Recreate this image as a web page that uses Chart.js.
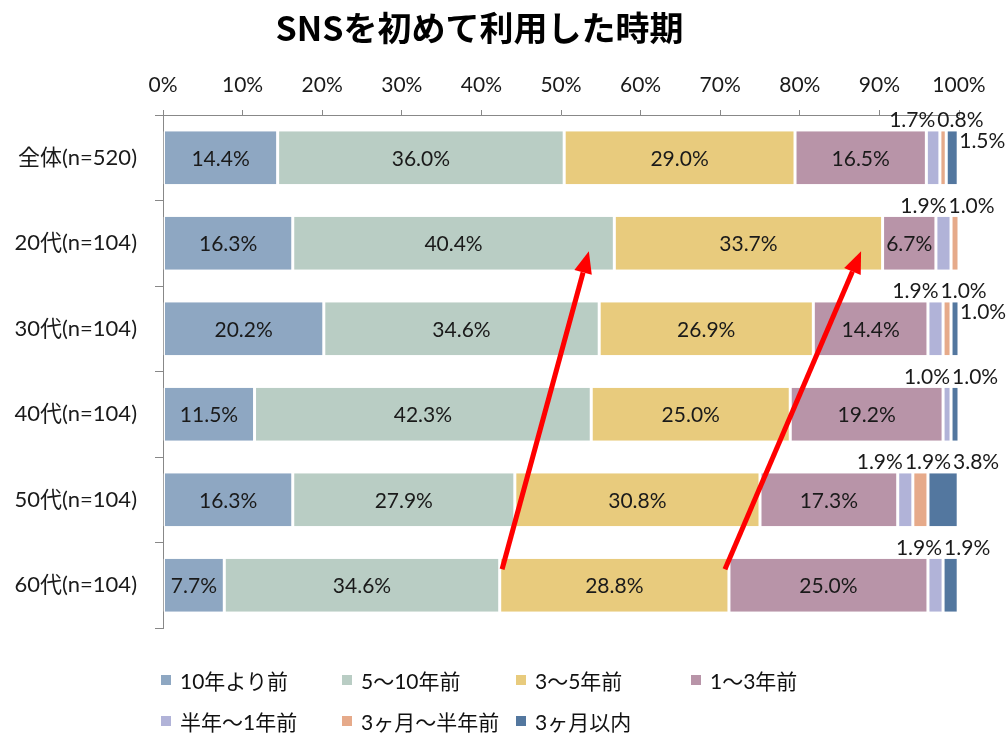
<!DOCTYPE html>
<html>
<head>
<meta charset="utf-8">
<script src="https://cdn.jsdelivr.net/npm/chart.js@4.4.1/dist/chart.umd.min.js"></script>
<style>
	html, body { margin: 0; padding: 0; background: #fff; }
	#wrap { position: relative; width: 1008px; height: 734px; }
	#c { position: absolute; left: 0; top: 0; }
	#legend {
		position: absolute; left: 161px; top: 667px;
		display: grid; grid-template-columns: 181px 174px 175px 200px; row-gap: 15px;
		font-family: Lato, "Noto Sans CJK JP", sans-serif; font-size: 21px; color: #111;
	}
	.item { display: flex; align-items: center; height: 26px; white-space: nowrap; }
	.sw { width: 10px; height: 10px; margin-right: 9px; flex: none; }
</style>
</head>
<body>
<div id="wrap">
	<canvas id="c" width="1008" height="734"></canvas>
	<div id="legend"></div>
</div>
<script>
'use strict';
/*----data----*/
var categories = ['全体(n=520)', '20代(n=104)', '30代(n=104)', '40代(n=104)', '50代(n=104)', '60代(n=104)'];
var seriesNames = ['10年より前', '5～10年前', '3～5年前', '1～3年前', '半年～1年前', '3ヶ月～半年前', '3ヶ月以内'];
var before10y = [14.4, 16.3, 20.2, 11.5, 16.3, 7.7];
var y5to10 = [36.0, 40.4, 34.6, 42.3, 27.9, 34.6];
var y3to5 = [29.0, 33.7, 26.9, 25.0, 30.8, 28.8];
var y1to3 = [16.5, 6.7, 14.4, 19.2, 17.3, 25.0];
var m6to1y = [1.7, 1.9, 1.9, 1.0, 1.9, 1.9];
var m3to6 = [0.8, 1.0, 1.0, 0, 1.9, 0];
var within3m = [1.5, 0, 1.0, 1.0, 3.8, 1.9];
var xTicks = [0, 10, 20, 30, 40, 50, 60, 70, 80, 90, 100];
// arrows: from a point on one bar to a point on another (x in %, y = category index)
var arrowFrom = [[42.6, 5], [70.6, 5]];
var arrowTo = [[53.5, 1], [87.7, 1]];

/*----style----*/
var colors = ['#8ea7c2', '#b9cdc4', '#e8cb7d', '#b894a8', '#b1b3d8', '#e6aa8a', '#53779f'];
var fontFam = 'Lato, "Noto Sans CJK JP", sans-serif';
var axisColor = '#888888';
// labels of these (category-series) go to the right of the bar instead of above it
var sideLabels = { '0-6': true, '2-6': true };

var allSeries = [before10y, y5to10, y3to5, y1to3, m6to1y, m3to6, within3m];

var labelPlugin = {
	id: 'barLabels',
	afterDatasetsDraw: function(chart) {
		var ctx = chart.ctx;
		ctx.save();
		ctx.font = '21px ' + fontFam;
		ctx.fillStyle = '#1a1a1a';
		ctx.textBaseline = 'middle';
		for (var i = 0; i < categories.length; i++) {
			var small = [];
			for (var d = 0; d < allSeries.length; d++) {
				var v = allSeries[d][i];
				if (!v) continue;
				var el = chart.getDatasetMeta(d).data[i];
				var txt = v.toFixed(1) + '%';
				var top = el.y - el.height / 2;
				if (v >= 5) {
					ctx.textAlign = 'center';
					ctx.fillText(txt, (el.x + el.base) / 2, el.y + 1);
				} else if (sideLabels[i + '-' + d]) {
					ctx.textAlign = 'left';
					ctx.fillText(txt, el.x + 1, top + 10);
				} else {
					small.push({ txt: txt, x0: el.base, x1: el.x, top: top });
				}
			}
			if (small.length) {
				var gap = 2;
				var total = -gap;
				small.forEach(function(s) { s.w = ctx.measureText(s.txt).width; total += s.w + gap; });
				var mid = (small[0].x0 + small[small.length - 1].x1) / 2;
				var x = mid - total / 2;
				ctx.textAlign = 'left';
				small.forEach(function(s) {
					ctx.fillText(s.txt, x, s.top - 11);
					x += s.w + gap;
				});
			}
		}
		ctx.restore();
	}
};

var arrowPlugin = {
	id: 'arrows',
	afterDatasetsDraw: function(chart) {
		var ctx = chart.ctx;
		var xs = chart.scales.x, ys = chart.scales.y;
		ctx.save();
		ctx.strokeStyle = '#ff0000';
		ctx.fillStyle = '#ff0000';
		ctx.lineWidth = 5;
		for (var k = 0; k < arrowFrom.length; k++) {
			var x0 = xs.getPixelForValue(arrowFrom[k][0]);
			var y0 = ys.getPixelForValue(arrowFrom[k][1]) - 16;
			var x1 = xs.getPixelForValue(arrowTo[k][0]);
			var y1 = ys.getPixelForValue(arrowTo[k][1]) + 8;
			var ang = Math.atan2(y1 - y0, x1 - x0);
			var headLen = 22, headW = 9;
			var bx = x1 - headLen * Math.cos(ang), by = y1 - headLen * Math.sin(ang);
			ctx.beginPath();
			ctx.moveTo(x0, y0);
			ctx.lineTo(bx, by);
			ctx.stroke();
			ctx.beginPath();
			ctx.moveTo(x1, y1);
			ctx.lineTo(bx + headW * Math.sin(ang), by - headW * Math.cos(ang));
			ctx.lineTo(bx - headW * Math.sin(ang), by + headW * Math.cos(ang));
			ctx.closePath();
			ctx.fill();
		}
		ctx.restore();
	}
};

var datasets = allSeries.map(function(arr, d) {
	return {
		label: seriesNames[d],
		data: arr,
		backgroundColor: colors[d],
		borderColor: '#ffffff',
		borderWidth: { left: 1.5, right: 1.5, top: 0, bottom: 0 },
		borderSkipped: false,
		categoryPercentage: 1,
		barPercentage: 0.62
	};
});

var titleSize = 34;
var titleH = titleSize * 1.2 + 8 + 8;

var ctx = document.getElementById('c').getContext('2d');
var myChart = new Chart(ctx, {
	type: 'bar',
	data: { labels: categories, datasets: datasets },
	options: {
		indexAxis: 'y',
		responsive: false,
		animation: false,
		layout: { padding: { left: 0, right: 49, top: 0, bottom: 106 } },
		plugins: {
			legend: { display: false },
			tooltip: { enabled: false },
			title: {
				display: true,
				text: 'SNSを初めて利用した時期',
				color: '#000',
				font: { family: '"Noto Sans CJK JP", sans-serif', size: titleSize, weight: 'bold' },
				padding: { top: 8, bottom: 8 }
			}
		},
		scales: {
			x: {
				position: 'top',
				stacked: true,
				min: 0,
				max: 100,
				afterBuildTicks: function(s) { s.ticks = xTicks.map(function(v) { return { value: v }; }); },
				afterFit: function(s) { s.height = 115 - titleH; },
				ticks: {
					callback: function(v) { return v + '%'; },
					color: '#1a1a1a',
					font: { family: fontFam, size: 21 },
					padding: 12,
					maxRotation: 0
				},
				grid: { drawOnChartArea: false, tickLength: 5, color: axisColor },
				border: { color: axisColor }
			},
			y: {
				stacked: true,
				afterFit: function(s) { s.width = 163; },
				ticks: { color: '#1a1a1a', font: { family: fontFam, size: 22 }, padding: 18 },
				grid: { drawOnChartArea: false, tickLength: 8, color: axisColor, offset: true },
				border: { color: axisColor }
			}
		}
	},
	plugins: [labelPlugin, arrowPlugin]
});

/*----legend----*/
var legend = document.getElementById('legend');
seriesNames.forEach(function(name, d) {
	var item = document.createElement('div');
	item.className = 'item';
	var sw = document.createElement('span');
	sw.className = 'sw';
	sw.style.background = colors[d];
	item.appendChild(sw);
	item.appendChild(document.createTextNode(name));
	legend.appendChild(item);
});
</script>
</body>
</html>
